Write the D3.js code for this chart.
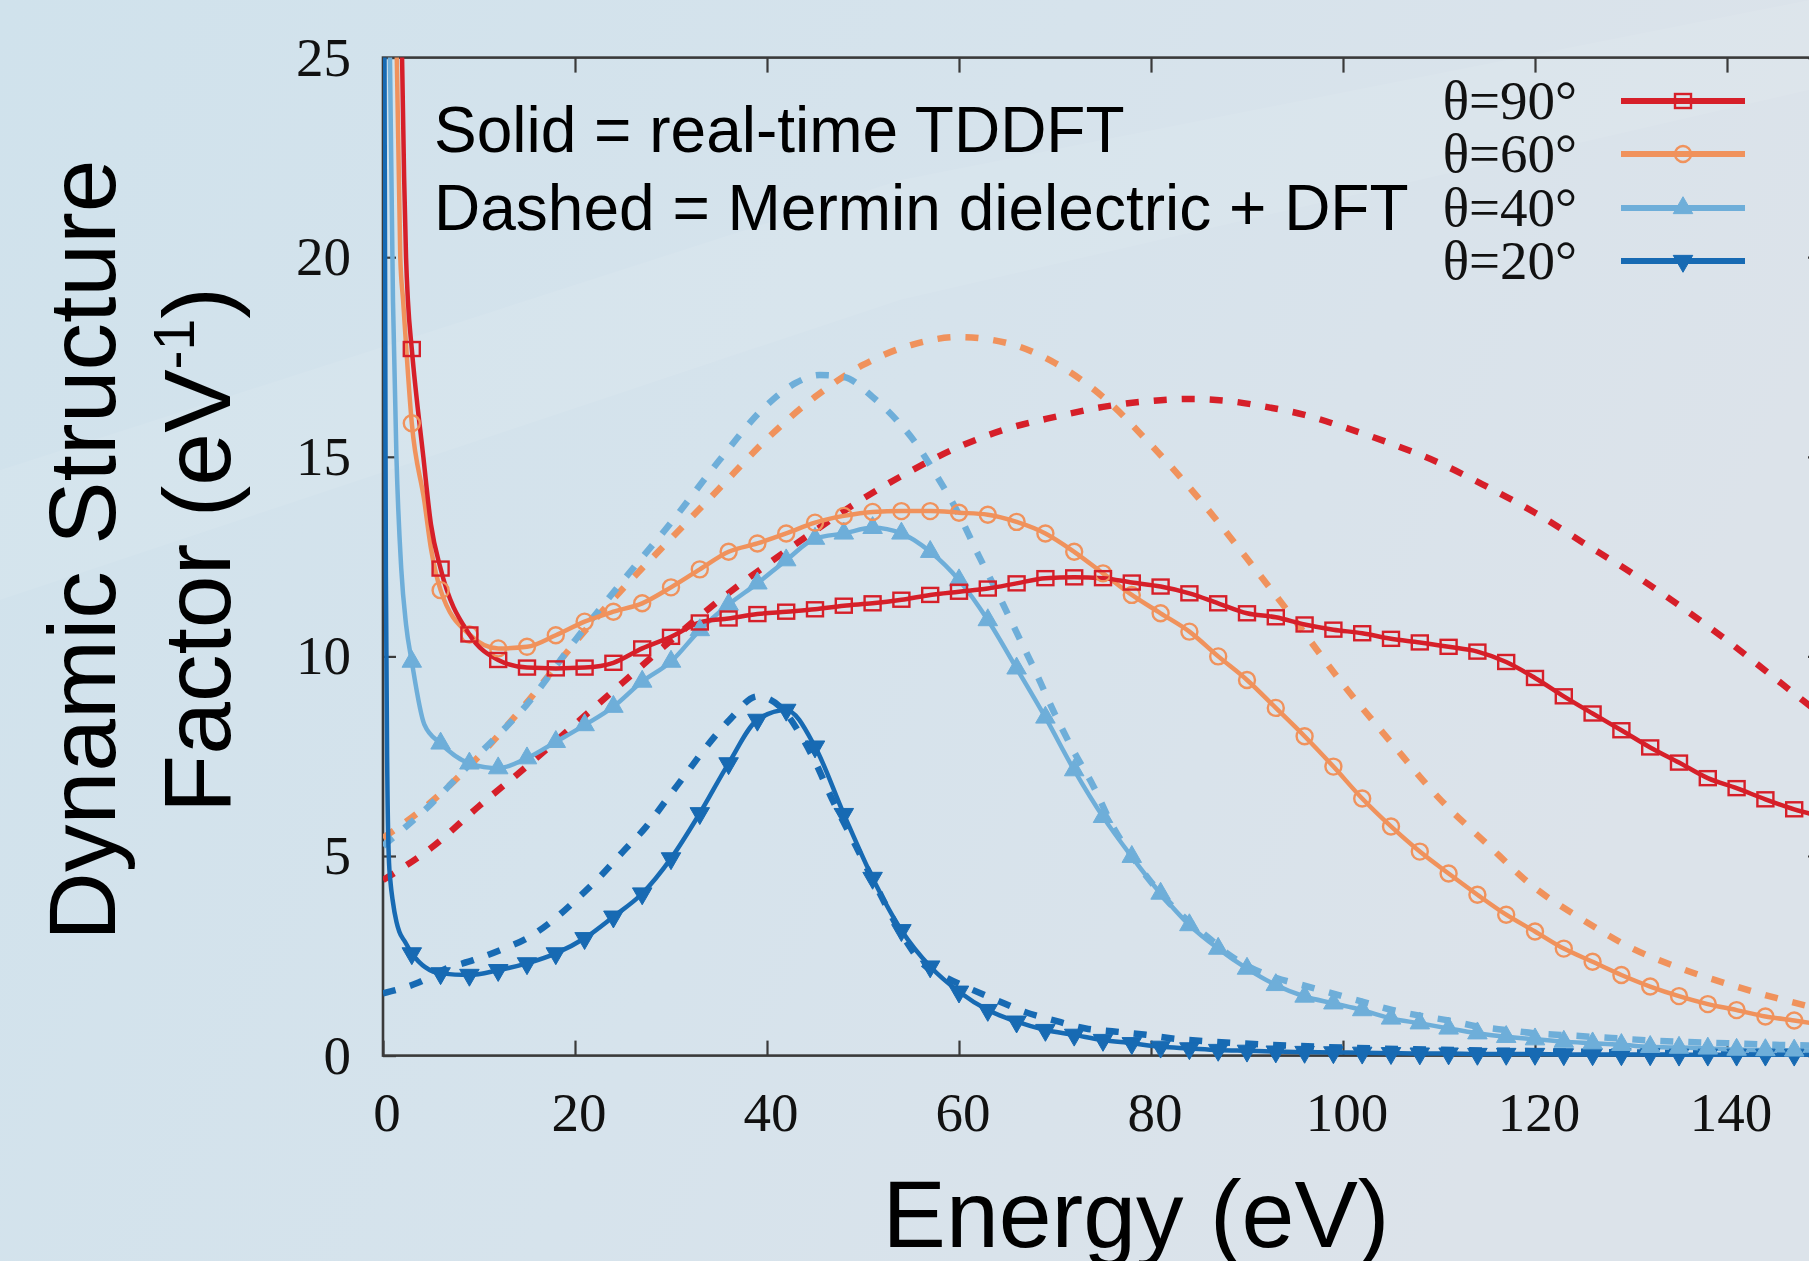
<!DOCTYPE html>
<html>
<head>
<meta charset="utf-8">
<script src="https://cdn.jsdelivr.net/npm/d3@7/dist/d3.min.js"></script>
<style>
  body { margin: 0; background: #d5e3ec; }
  svg { display: block; }
</style>
</head>
<body>
<div id="chart"></div>
<script>

var W = 1809, H = 1261;

// plot box (right edge sits just past the picture, like the source figure)
var box = { left: 383, right: 1823, top: 57.6, bottom: 1055.6 };

var labels = ["θ=90°", "θ=60°", "θ=40°", "θ=20°"];
var colors = ["#d61f29", "#f0925c", "#6eaed9", "#176ab3"];
var xTicks = [0, 20, 40, 60, 80, 100, 120, 140];
var yTicks = [0, 5, 10, 15, 20, 25];

// energies of the TDDFT markers (eV)
var markE = [3, 6, 9, 12, 15, 18, 21, 24, 27, 30, 33, 36, 39, 42, 45, 48, 51, 54, 57, 60,
  63, 66, 69, 72, 75, 78, 81, 84, 87, 90, 93, 96, 99, 102, 105, 108, 111, 114, 117, 120,
  123, 126, 129, 132, 135, 138, 141, 144, 147, 150];

// solid = real-time TDDFT, read at the markers
var tddft90 = [17.7, 12.2, 10.55, 9.91, 9.72, 9.70, 9.72, 9.84, 10.2, 10.49, 10.85, 10.95, 11.06, 11.12, 11.18, 11.27, 11.33, 11.42, 11.54, 11.62,
  11.70, 11.83, 11.96, 11.98, 11.96, 11.85, 11.75, 11.58, 11.33, 11.08, 10.98, 10.8, 10.67, 10.58, 10.44, 10.35, 10.24, 10.12, 9.86, 9.46,
  9.0, 8.57, 8.15, 7.72, 7.34, 6.95, 6.70, 6.42, 6.17, 5.98];
var tddft60 = [15.84, 11.66, 10.55, 10.2, 10.24, 10.53, 10.87, 11.12, 11.33, 11.73, 12.18, 12.62, 12.83, 13.08, 13.35, 13.52, 13.62, 13.64, 13.64, 13.6,
  13.55, 13.37, 13.08, 12.62, 12.08, 11.54, 11.08, 10.62, 10.0, 9.41, 8.71, 8.0, 7.24, 6.44, 5.74, 5.11, 4.56, 4.03, 3.53, 3.11,
  2.68, 2.35, 2.02, 1.73, 1.49, 1.29, 1.14, 0.98, 0.88, 0.77];
var tddft40 = [9.87, 7.82, 7.32, 7.2, 7.45, 7.86, 8.28, 8.74, 9.37, 9.87, 10.66, 11.3, 11.83, 12.41, 12.95, 13.08, 13.22, 13.08, 12.62, 11.91,
  10.91, 9.7, 8.47, 7.15, 5.98, 4.98, 4.06, 3.27, 2.68, 2.18, 1.77, 1.48, 1.31, 1.14, 0.93, 0.81, 0.68, 0.56, 0.47, 0.41,
  0.35, 0.31, 0.27, 0.22, 0.2, 0.18, 0.15, 0.14, 0.13, 0.12];
var tddft20 = [2.56, 2.06, 2.02, 2.14, 2.31, 2.56, 2.94, 3.48, 4.06, 4.94, 6.07, 7.32, 8.41, 8.66, 7.74, 6.05, 4.45, 3.14, 2.23, 1.6,
  1.14, 0.85, 0.64, 0.52, 0.39, 0.31, 0.22, 0.18, 0.14, 0.12, 0.1, 0.09, 0.08, 0.07, 0.06, 0.05, 0.05, 0.04, 0.04, 0.04,
  0.03, 0.03, 0.03, 0.03, 0.02, 0.02, 0.02, 0.02, 0.02, 0.02];

// steep rise at low energy, between/before the markers
var head90E = [1.95, 2.2, 2.4, 2.6, 4.2, 5];
var head90S = [25.5, 22, 20, 18.9, 15.0, 13.3];
var head60E = [1.4, 1.8, 2.1, 4.3, 5];
var head60S = [25.5, 20, 18.9, 13.9, 12.7];
var head40E = [0.7, 1.04, 1.4, 1.9, 2.4, 4.3];
var head40S = [25.5, 18.9, 15.0, 12.2, 10.8, 8.3];
var head20E = [0.15, 0.3, 0.45, 0.6, 0.8, 1.0, 1.4, 1.7, 2.3];
var head20S = [25.5, 12, 7.0, 5.0, 4.3, 3.9, 3.35, 3.1, 2.85];

// dashed = Mermin dielectric + DFT
var merm90E = [0, 5, 10, 15, 20, 25, 30, 35, 40, 45, 50, 55, 60, 65, 70, 75, 80, 84, 88, 92, 96, 100, 105, 110, 115, 120, 125, 130, 135, 140, 145, 150];
var merm90S = [4.4, 5.2, 6.25, 7.25, 8.3, 9.35, 10.4, 11.4, 12.3, 13.15, 13.95, 14.65, 15.25, 15.7, 16.0, 16.25, 16.4, 16.45, 16.4, 16.25, 16.05, 15.75, 15.33, 14.85, 14.25, 13.6, 12.85, 12.1, 11.28, 10.4, 9.45, 8.5];
var merm60E = [0, 5, 10, 15, 20, 25, 30, 35, 40, 45, 50, 55, 60, 65, 70, 75, 80, 85, 90, 95, 100, 105, 110, 115, 120, 125, 130, 135, 140, 145, 150];
var merm60S = [5.45, 6.35, 7.5, 8.85, 10.35, 11.7, 12.95, 14.2, 15.45, 16.5, 17.3, 17.8, 18.0, 17.85, 17.35, 16.5, 15.3, 13.95, 12.45, 10.9, 9.3, 7.85, 6.45, 5.3, 4.2, 3.4, 2.7, 2.2, 1.8, 1.45, 1.15];
var merm40E = [0, 5, 10, 15, 20, 25, 30, 35, 40, 43, 45.5, 48, 51, 53.5, 55.5, 57.3, 60, 62, 64, 66, 68, 70, 72, 74, 76, 78, 80, 82, 84, 86, 88, 90, 93, 96, 99, 102, 105, 108, 111, 114, 117, 120, 124, 128, 132, 136, 140, 145, 150];
var merm40S = [5.25, 6.3, 7.55, 8.8, 10.4, 11.9, 13.35, 14.9, 16.3, 16.85, 17.05, 17.0, 16.5, 15.92, 15.34, 14.67, 13.55, 12.55, 11.6, 10.6, 9.6, 8.55, 7.6, 6.75, 5.75, 5.0, 4.35, 3.8, 3.35, 2.95, 2.55, 2.25, 1.95, 1.75, 1.55, 1.35, 1.15, 1.0, 0.88, 0.73, 0.64, 0.56, 0.5, 0.44, 0.38, 0.34, 0.31, 0.27, 0.25];
var merm20E = [0, 3.5, 6.6, 9.4, 12.2, 15.3, 17.7, 20.1, 22.6, 25, 27.4, 29.5, 31.6, 33.7, 36.1, 39, 41.7, 43.4, 45.1, 46.5, 49.3, 51.4, 53.8, 56.2, 58.7, 61.1, 63.9, 66.8, 69.8, 73.2, 76.4, 79.5, 82.6, 85.7, 89.2, 92.3, 95.5, 100, 110, 120, 130, 140, 150];
var merm20S = [1.56, 1.81, 2.18, 2.39, 2.64, 2.98, 3.39, 3.9, 4.48, 5.11, 5.73, 6.4, 7.07, 7.74, 8.41, 9.0, 8.66, 8.07, 7.32, 6.57, 5.23, 4.23, 3.14, 2.31, 1.95, 1.68, 1.39, 1.1, 0.89, 0.68, 0.6, 0.52, 0.42, 0.36, 0.31, 0.27, 0.24, 0.2, 0.15, 0.11, 0.08, 0.06, 0.05];

var solidVals = [tddft90, tddft60, tddft40, tddft20];
var headE = [head90E, head60E, head40E, head20E];
var headS = [head90S, head60S, head40S, head20S];
var mermE = [merm90E, merm60E, merm40E, merm20E];
var mermS = [merm90S, merm60S, merm40S, merm20S];
var shapes = ["square", "circle", "up", "down"];

var series = labels.map(function (lab, i) {
  var solid = headE[i].map(function (e, j) { return [e, headS[i][j]]; })
    .concat(markE.map(function (e, j) { return [e, solidVals[i][j]]; }))
    .sort(function (a, b) { return a[0] - b[0]; });
  return {
    label: lab,
    color: colors[i],
    shape: shapes[i],
    solid: solid,
    marks: markE.map(function (e, j) { return [e, solidVals[i][j]]; }),
    dashed: mermE[i].map(function (e, j) { return [e, mermS[i][j]]; })
  };
});

var svg = d3.select("#chart")
  .append("svg")
  .attr("width", W)
  .attr("height", H);

// background wash
var defs = svg.append("defs");
var grad = defs.append("linearGradient")
  .attr("id", "bg").attr("x1", "0").attr("y1", "0").attr("x2", "1").attr("y2", "0.3");
grad.append("stop").attr("offset", "0").attr("stop-color", "#d0e2ec");
grad.append("stop").attr("offset", "0.55").attr("stop-color", "#d6e3ec");
grad.append("stop").attr("offset", "1").attr("stop-color", "#dce3ea");
svg.append("rect").attr("width", W).attr("height", H).attr("fill", "url(#bg)");
svg.append("path")
  .attr("d", "M0,470 L900,180 L1809,0 L1809,90 L900,300 L0,600 Z")
  .attr("fill", "#ffffff").attr("opacity", 0.07);

defs.append("clipPath").attr("id", "plotclip")
  .append("rect")
  .attr("x", box.left).attr("y", box.top)
  .attr("width", box.right - box.left).attr("height", box.bottom - box.top + 20);

var xScale = d3.scaleLinear().domain([0, 150]).range([box.left, box.right]);
var yScale = d3.scaleLinear().domain([0, 25]).range([box.bottom, box.top]);

var line = d3.line()
  .x(function (d) { return xScale(d[0]); })
  .y(function (d) { return yScale(d[1]); })
  .curve(d3.curveMonotoneX);

// axes: ticks point inward on all four sides
var axisStroke = "#3a3a3a";
var gx = svg.append("g")
  .attr("transform", "translate(0," + box.bottom + ")")
  .call(d3.axisBottom(xScale).tickValues(xTicks).tickSize(-15).tickFormat(""));
var gxTop = svg.append("g")
  .attr("transform", "translate(0," + box.top + ")")
  .call(d3.axisTop(xScale).tickValues(xTicks).tickSize(-15).tickFormat(""));
var gy = svg.append("g")
  .attr("transform", "translate(" + box.left + ",0)")
  .call(d3.axisLeft(yScale).tickValues(yTicks).tickSize(-13).tickFormat(""));
var gyRight = svg.append("g")
  .attr("transform", "translate(" + box.right + ",0)")
  .call(d3.axisRight(yScale).tickValues(yTicks).tickSize(-15).tickFormat(""));
[gx, gxTop, gy, gyRight].forEach(function (g) {
  g.select(".domain").remove();
  g.selectAll("line").attr("stroke", axisStroke).attr("stroke-width", 2.2);
});
svg.append("rect")
  .attr("x", box.left).attr("y", box.top)
  .attr("width", box.right - box.left).attr("height", box.bottom - box.top)
  .attr("fill", "none").attr("stroke", axisStroke).attr("stroke-width", 2.6);

var serif = "'Liberation Serif', 'Times New Roman', serif";
var sans = "'Liberation Sans', Arial, sans-serif";

svg.append("g").selectAll("text")
  .data(xTicks).enter().append("text")
  .attr("x", function (d) { return xScale(d) + 4; })
  .attr("y", 1131)
  .attr("text-anchor", "middle")
  .attr("font-family", serif).attr("font-size", 55).attr("fill", "#111")
  .text(function (d) { return d; });

svg.append("g").selectAll("text")
  .data(yTicks).enter().append("text")
  .attr("x", 351)
  .attr("y", function (d) { return yScale(d) + 18; })
  .attr("text-anchor", "end")
  .attr("font-family", serif).attr("font-size", 55).attr("fill", "#111")
  .text(function (d) { return d; });

// curves
var plot = svg.append("g").attr("clip-path", "url(#plotclip)");

series.forEach(function (s) {
  plot.append("path")
    .datum(s.dashed)
    .attr("d", line)
    .attr("fill", "none")
    .attr("stroke", s.color)
    .attr("stroke-width", 6.5)
    .attr("stroke-dasharray", "13,15");
});

series.slice().reverse().forEach(function (s) {
  plot.append("path")
    .datum(s.solid)
    .attr("d", line)
    .attr("fill", "none")
    .attr("stroke", s.color)
    .attr("stroke-width", 4.5);
});

function drawMarker(g, shape, color, x, y) {
  if (shape === "square") {
    g.append("rect")
      .attr("x", x - 8).attr("y", y - 7).attr("width", 16).attr("height", 14)
      .attr("fill", "none").attr("stroke", color).attr("stroke-width", 2.4);
  } else if (shape === "circle") {
    g.append("circle")
      .attr("cx", x).attr("cy", y).attr("r", 8)
      .attr("fill", "none").attr("stroke", color).attr("stroke-width", 2.4);
  } else {
    g.append("path")
      .attr("d", d3.symbol().type(d3.symbolTriangle).size(165)())
      .attr("transform", "translate(" + x + "," + y + ")" + (shape === "down" ? " rotate(180)" : ""))
      .attr("fill", color).attr("stroke", color).attr("stroke-width", 1);
  }
}

series.slice().reverse().forEach(function (s) {
  var g = svg.append("g");
  s.marks.forEach(function (d) {
    drawMarker(g, s.shape, s.color, xScale(d[0]), yScale(d[1]));
  });
});

// legend
var legendY = [101, 154, 208, 261];
var leg = svg.append("g");
series.forEach(function (s, i) {
  leg.append("text")
    .attr("x", 1577).attr("y", legendY[i] + 18)
    .attr("text-anchor", "end")
    .attr("font-family", serif).attr("font-size", 55).attr("fill", "#111")
    .text(s.label);
  leg.append("line")
    .attr("x1", 1621).attr("x2", 1745)
    .attr("y1", legendY[i]).attr("y2", legendY[i])
    .attr("stroke", s.color).attr("stroke-width", 6);
  drawMarker(leg, s.shape, s.color, 1683, legendY[i]);
});

// note
var note = svg.append("g")
  .attr("font-family", sans).attr("font-size", 64).attr("fill", "#000");
note.append("text").attr("x", 434).attr("y", 152).text("Solid = real-time TDDFT");
note.append("text").attr("x", 434).attr("y", 230).text("Dashed = Mermin dielectric + DFT");

// axis titles
svg.append("text")
  .attr("x", 1136).attr("y", 1247)
  .attr("text-anchor", "middle")
  .attr("font-family", sans).attr("font-size", 95).attr("fill", "#000")
  .text("Energy (eV)");

svg.append("text")
  .attr("transform", "translate(115,550) rotate(-90)")
  .attr("text-anchor", "middle")
  .attr("font-family", sans).attr("font-size", 95).attr("fill", "#000")
  .text("Dynamic Structure");

var yt2 = svg.append("text")
  .attr("transform", "translate(230,550) rotate(-90)")
  .attr("text-anchor", "middle")
  .attr("font-family", sans).attr("font-size", 95).attr("fill", "#000");
yt2.append("tspan").text("Factor (eV");
yt2.append("tspan").attr("font-size", 57).attr("dy", -36).text("-1");
yt2.append("tspan").attr("dy", 36).text(")");

</script>
</body>
</html>
